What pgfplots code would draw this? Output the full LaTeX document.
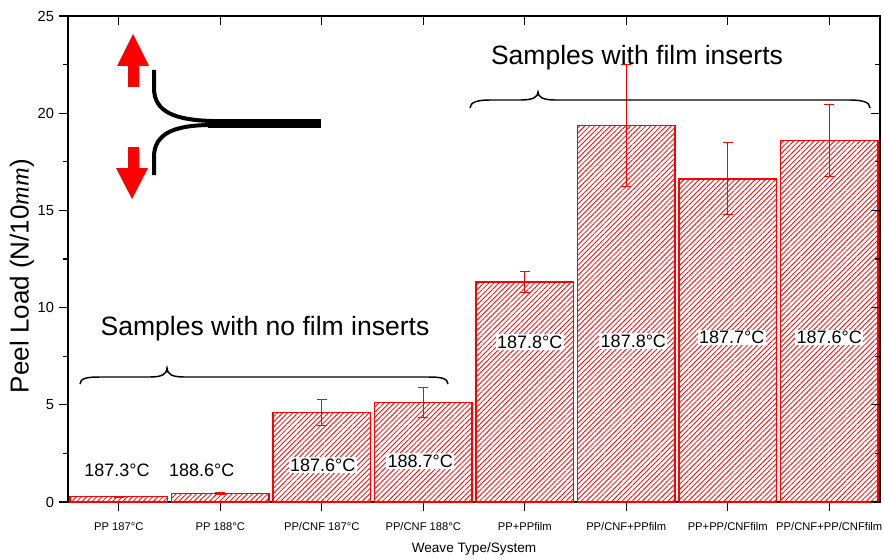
\documentclass[border=0pt]{standalone}
\usepackage{fontspec}
\setmainfont{Liberation Sans}
\newfontfamily\timesfont{Liberation Serif}
\usepackage{pgfplots}
\usepackage{pgfplotstable}
\pgfplotsset{compat=1.18}
\usetikzlibrary{patterns.meta}

% peel load per system, with std error
\pgfplotstableread{
x y err
1 0.27 0.03
2 0.45 0.05
3 4.60 0.67
4 5.10 0.77
5 11.32 0.54
6 19.36 3.15
7 16.62 1.85
8 18.59 1.85
}\peeldata

\pgfplotsset{
  peelframe/.style={
    width=609pt, height=364.5pt, scale only axis,
    xmin=0.5, xmax=8.5, ymin=0, ymax=25,
    xtick={1,...,8}, ytick={0,5,...,25}, minor y tick num=1,
    major tick length=7pt, minor tick length=4pt,
    tick style={black, line width=0.9pt},
  },
}

\begin{document}
\begin{tikzpicture}
\useasboundingbox (-51pt,-42pt) rectangle (612pt,376.5pt);
\begin{axis}[
  peelframe,
  ybar,
  tick align=outside, xtick pos=left, ytick pos=left,
  axis line style={line width=1.2pt},
  xticklabels={PP 187°C, PP 188°C, PP/CNF 187°C, PP/CNF 188°C, PP+PPfilm, PP/CNF+PPfilm, PP+PP/CNFfilm, PP/CNF+PP/CNFfilm},
  x tick label style={font=\fontsize{8.4}{10}\selectfont, yshift=-5pt},
  y tick label style={font=\fontsize{11}{13}\selectfont},
  /pgf/number format/assume math mode=true,
  xlabel={Weave Type/System},
  xlabel style={font=\fontsize{10.2}{12}\selectfont, at={(axis description cs:0.5,-0.097)}, anchor=center},
  ylabel={Peel Load (N/10{\timesfont\itshape mm})},
  ylabel style={font=\fontsize{19.5}{22}\selectfont, at={(axis description cs:-0.0567,0.465)}, anchor=center},
]
\addplot[bar width=0.96, draw=red, line width=0.9pt,
  pattern={Lines[angle=45,distance=2.7pt,line width=0.6pt]}, pattern color=red,
  error bars/.cd, y dir=both, y explicit,
  error bar style={draw=red, line width=0.7pt},
  error mark options={draw=red, rotate=90, mark size=3.75pt, line width=0.7pt}]
  table[x=x, y=y, y error=err] {\peeldata};

\begin{scope}[every node/.style={font=\fontsize{13.5}{16}\selectfont, anchor=base, inner sep=1pt}]
\node at (axis cs:0.982,1.337) {187.3°C};
\node at (axis cs:1.818,1.337) {188.6°C};
\node[fill=white] at (axis cs:3.01,1.595) {187.6°C};
\node[fill=white] at (axis cs:3.971,1.80) {188.7°C};
\node[fill=white] at (axis cs:5.05,7.92) {187.8°C};
\node[fill=white] at (axis cs:6.07,7.97) {187.8°C};
\node[fill=white] at (axis cs:7.04,8.13) {187.7°C};
\node[fill=white] at (axis cs:8.00,8.13) {187.6°C};
\end{scope}
\end{axis}

% inside ticks on top and right
\begin{axis}[
  peelframe,
  tick align=inside, xtick pos=right, ytick pos=right,
  xticklabels={}, yticklabels={},
  axis line style={draw=none},
]
\end{axis}

% annotations in pixel units of the reference
\begin{scope}[x=0.75pt, y=-0.75pt, shift={(-51pt,376.5pt)}]
\node[font=\fontsize{19.9}{22}\selectfont, anchor=base] at (265,335) {Samples with no film inserts};
\node[font=\fontsize{19.9}{22}\selectfont, anchor=base] at (637,65) {Samples with film inserts};
\draw[line width=1.1pt] (80,384) .. controls (80,378) and (88,377) .. (100,377) -- (150,377)
  .. controls (162,377) and (167,374) .. (167,368) .. controls (167,374) and (172,377) .. (184,377)
  -- (428,377) .. controls (440,377) and (448,378) .. (448,384);
\draw[line width=1.1pt] (470,108) .. controls (470,102) and (478,100) .. (490,100) -- (521,100)
  .. controls (533,100) and (538,97) .. (538,92) .. controls (538,97) and (543,100) .. (555,100)
  -- (850,100) .. controls (862,100) and (870,102) .. (870,108);
% peel specimen sketch
\fill[red] (133,34) -- (149,66) -- (139,66) -- (139,87) -- (128,87) -- (128,66) -- (117,66) -- cycle;
\fill[red] (132,199) -- (148,168) -- (139,168) -- (139,147) -- (128,147) -- (128,168) -- (116,168) -- cycle;
\draw[line width=3pt] (154,70) -- (154,88) .. controls (154,112) and (175,120) .. (212,121);
\draw[line width=3pt] (154,175) -- (154,157) .. controls (154,133) and (175,125) .. (212,125);
\draw[line width=6.75pt] (208,123) -- (321,123);
\end{scope}
\end{tikzpicture}
\end{document}
